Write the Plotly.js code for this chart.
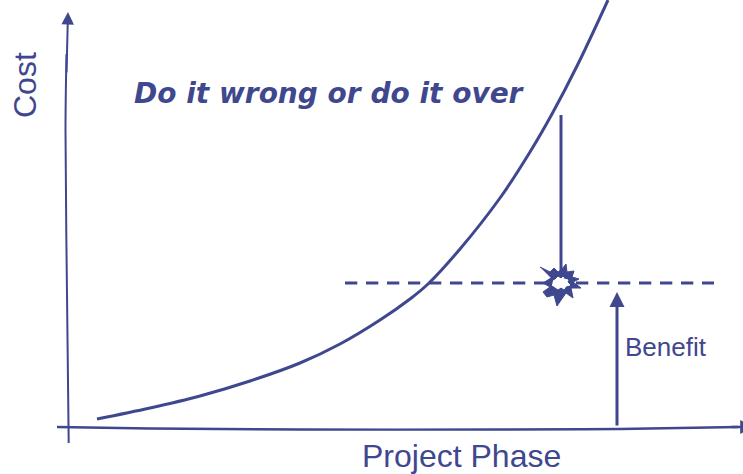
<!DOCTYPE html>
<html><head><meta charset="utf-8">
<script src="https://cdn.plot.ly/plotly-3.0.1.min.js"></script>
<style>html,body{margin:0;padding:0;background:#fff}#c{width:743px;height:474px}</style>
</head><body><div id="c"></div>
<script>
var ink = '#3f478f';
var curveX = [97,150,200,250,300,340,380,410,428,460,500,530,552,577,608];
var curveY = [55,66,78,93,111,130,154,175,190,225,276,322,360,408,474];
var xAxisX = [57,150,300,500,620,738];
var xAxisY = [47,45.5,44.5,44.5,45,47];
var yAxisX = [68.7,67,65.5,66.5];
var yAxisY = [31,180,344,420];
var targetX = [345,714];
var targetY = [191,191];
var dropX = [561,561];
var dropY = [359,202];
var burstOuterX = [540,550,554,558,562,566,567,574,572,579,573,581,571,573,566,557,554,547,543,550,543,551];
var burstOuterY = [267,272,268,272,269,264,272,271,277,279,282,288,288,298,293,306,295,297,292,287,283,278];
var burstInnerX = [553,555,558,561,563,564,568,567,570,566,564,561,558,555,552];
var burstInnerY = [281,280,277,279,277,279,280,282,285,286,289,287,289,287,285];
var labels = ['Do it wrong or do it over','Cost','Project Phase','Benefit'];

function line(x,y,w,dash,smooth){return {x:x,y:y,mode:'lines',hoverinfo:'skip',showlegend:false,
  line:{color:ink,width:w,dash:dash||'solid',shape:'spline',smoothing:smooth||1}};}
function poly(x,y,c){return {x:x,y:y.map(function(v){return 474-v;}),mode:'lines',fill:'toself',fillcolor:c,
  hoverinfo:'skip',showlegend:false,line:{color:c,width:1,shape:'linear'}};}
function arrow(x,y,ax,ay,w,s){return {x:x,y:y,ax:ax,ay:ay,xref:'x',yref:'y',axref:'x',ayref:'y',text:'',
  showarrow:true,arrowhead:2,arrowsize:s,arrowwidth:w,arrowcolor:ink};}
function label(t,x,y,size,extra){var a={text:t,x:x,y:y,xref:'x',yref:'y',showarrow:false,
  xanchor:'center',yanchor:'middle',font:{family:'"Liberation Sans",Arial,sans-serif',size:size,color:ink}};
  for(var k in extra)a[k]=extra[k];return a;}

Plotly.newPlot('c',[
  line(xAxisX,xAxisY,2.4),
  line(yAxisX,yAxisY,2),
  line(curveX,curveY,3),
  line(targetX,targetY,3,'12.3px,8.7px'),
  line(dropX,dropY,3),
  poly(burstOuterX,burstOuterY,ink),
  poly(burstInnerX,burstInnerY,'#ffffff')
],{
  width:743,height:474,margin:{l:0,r:0,t:0,b:0},
  paper_bgcolor:'#fff',plot_bgcolor:'#fff',showlegend:false,
  xaxis:{range:[0,743],visible:false,fixedrange:true},
  yaxis:{range:[0,474],visible:false,fixedrange:true},
  annotations:[
    arrow(68,462,66.5,400,2,1.25),
    arrow(617,182,617,47,3,1),
    arrow(754,47,730,47,2.4,1.15),
    label(labels[0],329,381,28,{font:{family:'"DejaVu Sans",sans-serif',size:28,color:ink,weight:'bold',style:'italic'}}),
    label(labels[1],25,389,32,{textangle:-90}),
    label(labels[2],461,18,32),
    label(labels[3],666,127,26)
  ]
},{staticPlot:true,displayModeBar:false});
</script></body></html>
